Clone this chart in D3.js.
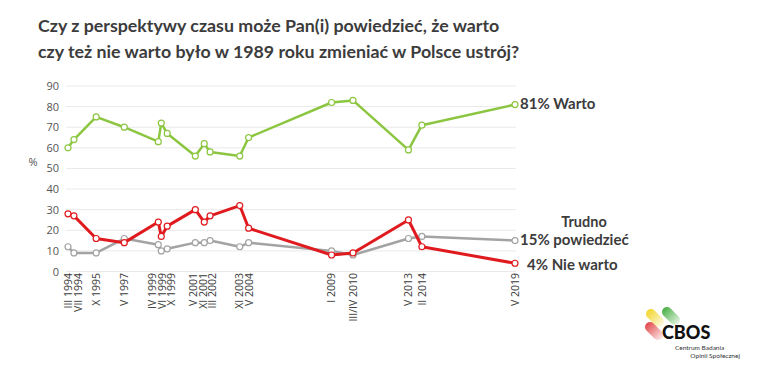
<!DOCTYPE html>
<html>
<head>
<meta charset="utf-8">
<script src="https://cdn.jsdelivr.net/npm/d3@7"></script>
<style>
  body { margin: 0; background: #fff; }
  svg { display: block; }
</style>
</head>
<body>
<div id="chart"></div>
<script>
"use strict";

// survey dates (mid-month), labels as printed under the axis
var dates = ["1994-03-15", "1994-07-15", "1995-10-15", "1997-05-15", "1999-04-15", "1999-06-15",
             "1999-10-15", "2001-05-15", "2001-11-15", "2002-03-15", "2003-11-15", "2004-05-15",
             "2009-01-15", "2010-04-01", "2013-05-15", "2014-02-15", "2019-05-15"];
var dateLabels = ["III 1994", "VII 1994", "X 1995", "V 1997", "IV 1999", "VI 1999", "X 1999",
                  "V 2001", "XI 2001", "III 2002", "XI 2003", "V 2004", "I 2009", "III/IV 2010",
                  "V 2013", "II 2014", "V 2019"];

var warto     = [60, 64, 75, 70, 63, 72, 67, 56, 62, 58, 56, 65, 82, 83, 59, 71, 81];
var nieWarto  = [28, 27, 16, 14, 24, 17, 22, 30, 24, 27, 32, 21, 8, 9, 25, 12, 4];
var trudno    = [12, 9, 9, 16, 13, 10, 11, 14, 14, 15, 12, 14, 10, 8, 16, 17, 15];

var yTicks = [0, 10, 20, 30, 40, 50, 60, 70, 80, 90];

var titleLines = ["Czy z perspektywy czasu może Pan(i) powiedzieć, że warto",
                  "czy też nie warto było w 1989 roku zmieniać w Polsce ustrój?"];

function drawChart()
{
    var w = 766;
    var h = 383;
    var parse = d3.timeParse("%Y-%m-%d");
    var dt = dates.map(parse);

    var svg = d3.select("#chart")
                .append("svg")
                .attr("width", w)
                .attr("height", h);

    // title
    svg.selectAll("text.title")
        .data(titleLines)
        .enter().append("text")
        .attr("class", "title")
        .attr("x", 38)
        .attr("y", function(d, i) { return 32 + i * 26; })
        .attr("fill", "#3c3c3c")
        .style("font-family", "Lato, sans-serif")
        .style("font-weight", "700")
        .style("font-size", "17.8px")
        .text(function(d) { return d; });

    var x = d3.scaleTime()
              .domain(d3.extent(dt))
              .range([68, 515]);

    var y = d3.scaleLinear()
              .domain([0, 90])
              .range([271.5, 86]);

    // gridlines
    svg.append("g")
        .selectAll("line")
        .data(yTicks)
        .enter().append("line")
        .attr("x1", 66)
        .attr("x2", 516)
        .attr("y1", function(d) { return y(d); })
        .attr("y2", function(d) { return y(d); })
        .attr("stroke", "#e9e9e9")
        .attr("stroke-width", 1);

    // y axis labels
    var yAxis = d3.axisLeft(y).tickValues(yTicks).tickSize(0).tickPadding(5);
    var gy = svg.append("g")
        .attr("transform", "translate(64,0)")
        .call(yAxis);
    gy.select(".domain").remove();
    gy.selectAll("text")
        .attr("fill", "#555")
        .style("font-family", "'Open Sans', sans-serif")
        .style("font-size", "11px");

    svg.append("text")
        .attr("x", 33)
        .attr("y", 166)
        .attr("text-anchor", "middle")
        .attr("fill", "#555")
        .style("font-family", "'Open Sans', sans-serif")
        .style("font-size", "11px")
        .text("%");

    // x axis labels (rotated); crowded labels get spread apart like in the original
    var pos = dt.map(function(d) { return x(d); });
    var minGap = 9.5;
    for (var it = 0; it < 50; it++) {
        for (var i = 1; i < pos.length; i++) {
            var gap = pos[i] - pos[i - 1];
            if (gap < minGap) {
                var push = (minGap - gap) / 2;
                pos[i - 1] -= push;
                pos[i] += push;
            }
        }
    }
    pos[0] = Math.max(pos[0], 68.5);
    pos[1] = Math.max(pos[1], pos[0] + minGap);

    var xAxis = d3.axisBottom(x)
                  .tickValues(dt)
                  .tickSize(0)
                  .tickFormat(function(d, i) { return dateLabels[i]; });
    var gx = svg.append("g")
        .attr("transform", "translate(0," + 271 + ")")
        .call(xAxis);
    gx.select(".domain").remove();
    gx.selectAll(".tick")
        .attr("transform", function(d, i) { return "translate(" + pos[i] + ",0)"; });
    gx.selectAll("text")
        .attr("transform", "rotate(-90)")
        .attr("x", -2)
        .attr("y", 0)
        .attr("dy", "0.35em")
        .attr("text-anchor", "end")
        .attr("fill", "#3a3a3a")
        .style("font-family", "'Open Sans', sans-serif")
        .style("font-size", "10.5px");

    var series = [
        { name: "Trudno", values: trudno, color: "#a3a3a3", width: 2.5 },
        { name: "Nie warto", values: nieWarto, color: "#e01b1f", width: 3 },
        { name: "Warto", values: warto, color: "#8cc641", width: 2.5 }
    ];

    var line = d3.line()
                 .x(function(d, i) { return x(dt[i]); })
                 .y(function(d) { return y(d); });

    var groups = svg.selectAll("g.series")
        .data(series)
        .enter().append("g")
        .attr("class", "series");

    groups.append("path")
        .attr("d", function(d) { return line(d.values); })
        .attr("fill", "none")
        .attr("stroke", function(d) { return d.color; })
        .attr("stroke-width", function(d) { return d.width; })
        .attr("stroke-linejoin", "round");

    groups.each(function(s) {
        d3.select(this).selectAll("circle")
            .data(s.values)
            .enter().append("circle")
            .attr("cx", function(d, i) { return x(dt[i]); })
            .attr("cy", function(d) { return y(d); })
            .attr("r", 3)
            .attr("fill", "#fff")
            .attr("stroke", s.color)
            .attr("stroke-width", 1.2);
    });

    // end labels
    var last = dt.length - 1;
    var lx = x(dt[last]);
    var labelStyle = function(sel) {
        sel.attr("fill", "#3c3c3c")
           .style("font-family", "Lato, sans-serif")
           .style("font-weight", "700")
           .style("font-size", "15px");
    };

    svg.append("text")
        .attr("x", lx + 5)
        .attr("y", y(warto[last]) + 4)
        .call(labelStyle)
        .text(warto[last] + "% Warto");

    svg.append("text")
        .attr("x", lx + 69)
        .attr("y", y(trudno[last]) - 14)
        .attr("text-anchor", "middle")
        .call(labelStyle)
        .style("font-size", "14.5px")
        .text("Trudno");

    svg.append("text")
        .attr("x", lx + 5)
        .attr("y", y(trudno[last]) + 4)
        .call(labelStyle)
        .text(trudno[last] + "% powiedzieć");

    svg.append("text")
        .attr("x", lx + 12)
        .attr("y", y(nieWarto[last]) + 7)
        .call(labelStyle)
        .text(nieWarto[last] + "% Nie warto");

    // CBOS logo
    var defs = svg.append("defs");
    var pills = [
        { id: "gy", c: "#f2d21b", x1: 651, y1: 314, x2: 659, y2: 322 },
        { id: "gg", c: "#3aa935", x1: 667, y1: 312, x2: 675, y2: 320 },
        { id: "gr", c: "#e0393b", x1: 650, y1: 327, x2: 658, y2: 335 }
    ];
    pills.forEach(function(p) {
        var g = defs.append("linearGradient")
            .attr("id", p.id)
            .attr("gradientUnits", "userSpaceOnUse")
            .attr("x1", p.x1 - 5).attr("y1", p.y1 - 5)
            .attr("x2", p.x2 + 5).attr("y2", p.y2 + 5);
        g.append("stop").attr("offset", "0%").attr("stop-color", p.c).attr("stop-opacity", 1);
        g.append("stop").attr("offset", "100%").attr("stop-color", p.c).attr("stop-opacity", 0.05);
        svg.append("line")
            .attr("x1", p.x1).attr("y1", p.y1)
            .attr("x2", p.x2).attr("y2", p.y2)
            .attr("stroke", "url(#" + p.id + ")")
            .attr("stroke-width", 10)
            .attr("stroke-linecap", "round");
    });

    svg.append("text")
        .attr("x", 662)
        .attr("y", 339)
        .attr("fill", "#111")
        .style("font-family", "Lato, sans-serif")
        .style("font-weight", "900")
        .style("font-size", "18px")
        .text("CBOS");

    svg.append("text")
        .attr("x", 675)
        .attr("y", 350)
        .attr("fill", "#333")
        .style("font-family", "Lato, sans-serif")
        .style("font-size", "6.5px")
        .text("Centrum Badania");

    svg.append("text")
        .attr("x", 740)
        .attr("y", 358)
        .attr("text-anchor", "end")
        .attr("fill", "#333")
        .style("font-family", "Lato, sans-serif")
        .style("font-size", "6.5px")
        .text("Opinii Społecznej");
}

window.addEventListener("load", function() {
    drawChart();
});
</script>
</body>
</html>
